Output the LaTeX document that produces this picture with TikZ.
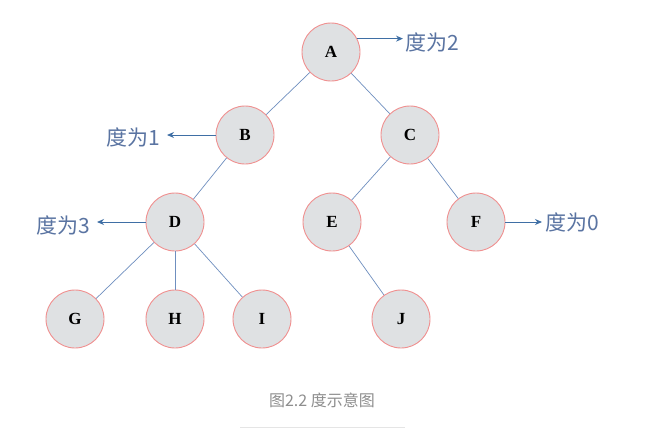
\documentclass[tikz,border=0pt]{standalone}
\usepackage{fontspec}
\setmainfont{Liberation Serif}
\newfontfamily\cjk{Noto Sans CJK SC}
\usetikzlibrary{arrows.meta}
\definecolor{nodefill}{HTML}{DFE1E3}
\definecolor{nodeline}{HTML}{F09090}
\definecolor{edgecol}{HTML}{6F8FBF}
\definecolor{arrcol}{HTML}{3F6FA5}
\definecolor{labcol}{HTML}{5A74A2}
\definecolor{capcol}{HTML}{8E8E8E}
\tikzset{
  tnode/.style={circle, draw=nodeline, fill=nodefill, line width=0.9pt, minimum size=58pt, inner sep=0pt, font=\fontsize{17}{17}\selectfont\bfseries},
  tedge/.style={draw=edgecol, line width=0.7pt},
  degarrow/.style={draw=arrcol, line width=1pt, -{Stealth[length=7pt,width=6pt]}},
  deglabel/.style={text=labcol, font=\cjk\fontsize{21}{21}\selectfont, inner sep=0pt},
}
\begin{document}
\begin{tikzpicture}[x=1pt,y=-1pt]
\useasboundingbox[fill=white] (0,0) rectangle (655,429);
\node[tnode] (A) at (331,52) {A};
\node[tnode] (B) at (245,135) {B};
\node[tnode] (C) at (410,135) {C};
\node[tnode] (D) at (175,222) {D};
\node[tnode] (E) at (332,222) {E};
\node[tnode] (F) at (476,222) {F};
\node[tnode] (G) at (75,319) {G};
\node[tnode] (H) at (175,319) {H};
\node[tnode] (I) at (262,319) {I};
\node[tnode] (J) at (401,319) {J};
\draw[tedge] (A) -- (B);
\draw[tedge] (A) -- (C);
\draw[tedge] (B) -- (D);
\draw[tedge] (C) -- (E);
\draw[tedge] (C) -- (F);
\draw[tedge] (D) -- (G);
\draw[tedge] (D) -- (H);
\draw[tedge] (D) -- (I);
\draw[tedge] (E) -- (J);
\node[deglabel, anchor=west] (L2) at (405,42) {度为2};
\node[deglabel, anchor=east] (L1) at (160,137) {度为1};
\node[deglabel, anchor=east] (L3) at (90,225) {度为3};
\node[deglabel, anchor=west] (L0) at (545,222) {度为0};
\coordinate (e2) at (403,39);
\coordinate (e1) at (167,135);
\coordinate (e3) at (97,222);
\coordinate (e0) at (542,222);
\draw[degarrow] (A.27) -- (A.27 -| e2);
\draw[degarrow] (B.west) -- (e1);
\draw[degarrow] (D.west) -- (e3);
\draw[degarrow] (F.east) -- (e0);
\node[text=capcol, font=\cjk\fontsize{16}{16}\selectfont] (cap) at (322,400) {图2.2 度示意图};
\coordinate (r1) at (240,427);
\coordinate (r2) at (405,427);
\draw[draw=black!10, line width=0.8pt] (r1) -- (r2);
\end{tikzpicture}
\end{document}
